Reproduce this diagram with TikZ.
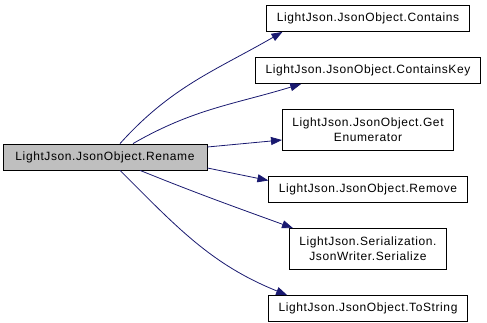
\documentclass[tikz,border=0pt]{standalone}
\usepackage{fontspec}
\setmainfont{Liberation Sans}[LetterSpace=5]
\definecolor{EdgeBlue}{RGB}{25,25,112}
\definecolor{FocusGray}{RGB}{191,191,191}
\usetikzlibrary{arrows.meta,positioning}

\begin{document}
\begin{tikzpicture}[x=1pt,y=1pt,node distance=25.2pt,
  fn/.style={draw=black,line width=0.8pt,fill=white,font=\fontsize{12}{15}\selectfont,align=center,inner xsep=10pt,inner ysep=0pt,minimum height=26pt},
  call/.style={draw=EdgeBlue,line width=0.8pt,-{Triangle[length=11pt,width=8pt]}}]
  \useasboundingbox (0,0) rectangle (487,323);
  \node[fn,fill=FocusGray,minimum width=204pt] (rename) at (105,166) {LightJson.JsonObject.Rename};
  \node[fn] (contains) at (368,304.5) {LightJson.JsonObject.Contains};
  \node[fn,below=of contains] (containskey) {LightJson.JsonObject.ContainsKey};
  \node[fn,below=of containskey,minimum height=41pt] (getenum) {LightJson.JsonObject.Get\\Enumerator};
  \node[fn,below=of getenum] (remove) {LightJson.JsonObject.Remove};
  \node[fn,below=of remove,minimum height=41pt] (serialize) {LightJson.Serialization.\\JsonWriter.Serialize};
  \node[fn,below=of serialize] (tostring) {LightJson.JsonObject.ToString};

  \draw[call] ([xshift=15pt]rename.north) to[out=48,in=-150] ([xshift=16pt]contains.south west);
  \draw[call] ([xshift=28pt]rename.north) to[out=30,in=-163] ([xshift=46pt]containskey.south west);
  \draw[call] ([yshift=10pt]rename.east) -- ([yshift=-10pt]getenum.west);
  \draw[call] ([yshift=-11pt]rename.east) -- ([yshift=9pt]remove.west);
  \draw[call] ([xshift=35pt]rename.south) to[out=-22,in=160] ([xshift=4pt]serialize.north west);
  \draw[call] ([xshift=15pt]rename.south) to[out=-45,in=158] ([xshift=19pt]tostring.north west);
\end{tikzpicture}
\end{document}
